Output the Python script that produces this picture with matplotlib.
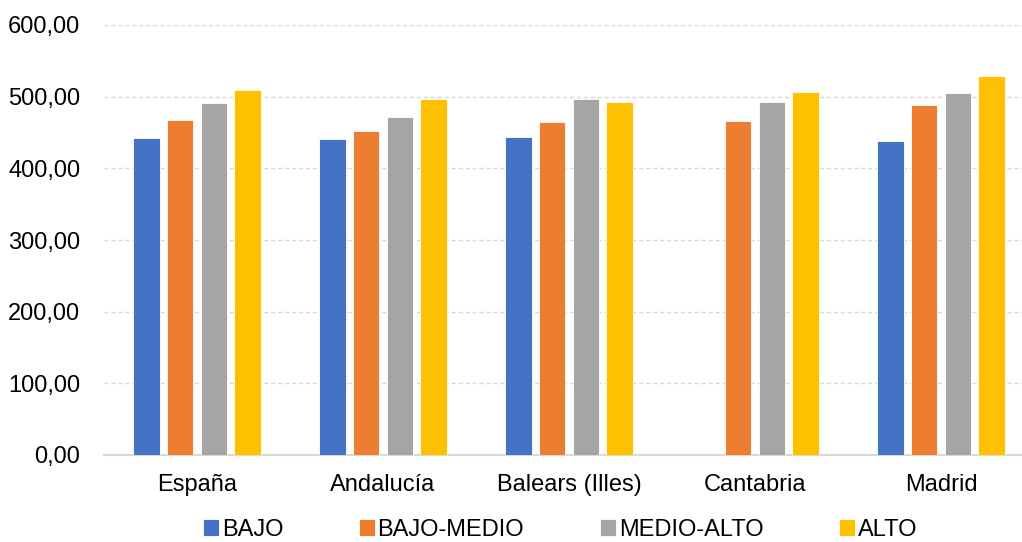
import matplotlib
matplotlib.use('Agg')
import matplotlib.pyplot as plt
import numpy as np

# Datos
categorias = ["España", "Andalucía", "Balears (Illes)", "Cantabria", "Madrid"]
series = ["BAJO", "BAJO-MEDIO", "MEDIO-ALTO", "ALTO"]
bajo = [442.7, 440.9, 443.2, np.nan, 437.7]
bajo_medio = [467.4, 451.6, 464.1, 465.5, 487.9]
medio_alto = [490.7, 471.1, 496.2, 492.0, 504.6]
alto = [509.2, 496.7, 492.9, 506.0, 528.6]
colores = ["#4472C4", "#ED7D31", "#A5A5A5", "#FFC000"]

plt.rcParams['font.family'] = ['Liberation Sans', 'DejaVu Sans']

fig = plt.figure(figsize=(10.22, 5.42), dpi=100)
ax = fig.add_axes([104 / 1022, 87 / 542, 930 / 1022, 430 / 542])

x = np.arange(len(categorias))
paso = 0.181
ancho = 0.142
valores = [bajo, bajo_medio, medio_alto, alto]
for i, (nombre, vals) in enumerate(zip(series, valores)):
    ax.bar(x + (i - 1.5) * paso, vals, width=ancho, color=colores[i],
           edgecolor='white', linewidth=0.6, label=nombre, zorder=3)

ax.set_xlim(-0.5, len(categorias) - 0.5)
ax.set_ylim(0, 600)
ax.set_yticks(np.arange(0, 601, 100))
ax.set_yticklabels([f"{v:.2f}".replace('.', ',') for v in np.arange(0, 601, 100)])
ax.set_xticks(x)
ax.set_xticklabels(categorias)
ax.tick_params(axis='both', length=0, labelsize=17, colors='black')
ax.tick_params(axis='y', pad=17)
ax.tick_params(axis='x', pad=14)

ax.yaxis.grid(True, color='#d9d9d9', linestyle=(0, (3, 2)), linewidth=1, zorder=0)
for s in ['top', 'right', 'left']:
    ax.spines[s].set_visible(False)
ax.spines['bottom'].set_color('#d9d9d9')
ax.spines['bottom'].set_linewidth(1.5)

fig.legend(loc='center', bbox_to_anchor=(560 / 1022, 1 - 530 / 542), ncol=4,
           frameon=False, fontsize=17, handlelength=0.7, handleheight=0.7,
           handletextpad=0.1, columnspacing=3.2, borderpad=0.1)

plt.savefig("out.png", dpi=100)
plt.close(fig)
